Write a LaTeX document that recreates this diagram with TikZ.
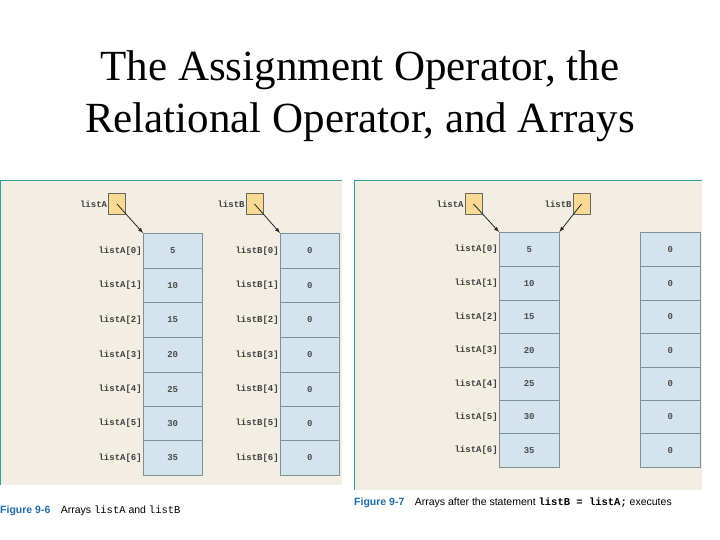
\documentclass[tikz,border=0pt]{standalone}
\usepackage{fontspec}
\setmainfont{Liberation Serif}
\newfontfamily\monof{Liberation Mono}
\newfontfamily\capf{Liberation Sans}
\definecolor{panelbg}{HTML}{F2EEE4}
\definecolor{teal}{HTML}{3A9AA0}
\definecolor{cellbg}{HTML}{D3E4EC}
\definecolor{cellln}{HTML}{7F8F98}
\definecolor{ptrbg}{HTML}{FAD993}
\definecolor{figblue}{HTML}{1F6BA8}
\begin{document}
\begin{tikzpicture}[x=1pt,y=-1pt,
  cell/.style={draw=cellln,fill=cellbg,minimum width=59pt,inner sep=0pt,font=\monof\bfseries\fontsize{9}{10}\selectfont,text=black!70},
  ptr/.style={draw=black!60,fill=ptrbg,minimum width=17pt,minimum height=21pt,inner sep=0pt},
  lbl/.style={font=\monof\bfseries\fontsize{9}{10}\selectfont,text=black!75,inner sep=1pt},
  arr/.style={-latex,thick,black!85},
  captext/.style={font=\capf\fontsize{10.5}{12}\selectfont,anchor=west,inner sep=0pt}]
\useasboundingbox (0,0) rectangle (720,540);
\fill[white] (0,0) rectangle (720,540);
\node[font=\fontsize{43}{52}\selectfont,align=center] (title) at (360,96) {The Assignment Operator, the\\Relational Operator, and Arrays};
% panels
\fill[panelbg] (0,180) rectangle (342,485);
\draw[teal,thick] (0,485) -- (0,180) -- (342,180);
\fill[panelbg] (354,180) rectangle (702,490);
\draw[teal,thick] (354,490) -- (354,180) -- (702,180);
% left panel
\node[ptr] (pa) at (117,204) {};
\node[lbl,anchor=east] (pal) at (pa.west) {listA};
\node[ptr] (pb) at (254.5,204) {};
\node[lbl,anchor=east] (pbl) at (pb.west) {listB};
\foreach \i/\y/\h/\v in {0/233/35/5,1/268/34/10,2/302/35/15,3/337/35/20,4/372/34/25,5/406/34/30,6/440/35/35}{
  \node[cell,minimum height=\h pt,anchor=north west] (a\i) at (143,\y) {\v};
  \node[lbl,anchor=east] at (a\i.west) {listA[\i]};
  \node[cell,minimum height=\h pt,anchor=north west] (b\i) at (280,\y) {0};
  \node[lbl,anchor=east] at (b\i.west) {listB[\i]};
}
\draw[arr] (pa.center) -- (a0.north west);
\draw[arr] (pb.center) -- (b0.north west);
% right panel
\node[ptr] (qa) at (473.5,204) {};
\node[lbl,anchor=east] at (qa.west) {listA};
\node[ptr] (qb) at (581.5,204) {};
\node[lbl,anchor=east] at (qb.west) {listB};
\foreach \i/\y/\h/\v in {0/232/34/5,1/266/34/10,2/300/33/15,3/333/34/20,4/367/33/25,5/400/33/30,6/433/34/35}{
  \node[cell,minimum width=60pt,minimum height=\h pt,anchor=north west] (c\i) at (499,\y) {\v};
  \node[lbl,anchor=east] at (c\i.west) {listA[\i]};
  \node[cell,minimum width=60pt,minimum height=\h pt,anchor=north west] (d\i) at (640,\y) {0};
}
\draw[arr] (qa.center) -- (c0.north west);
\draw[arr] (qb.center) -- (c0.north east);
% captions
\node[captext] (f6) at (0,511) {{\bfseries\color{figblue}Figure 9-6}\quad Arrays {\monof listA} and {\monof listB}};
\node[captext] (f7) at (354,503) {{\bfseries\color{figblue}Figure 9-7}\quad Arrays after the statement {\monof\bfseries listB = listA;} executes};
\end{tikzpicture}
\end{document}
